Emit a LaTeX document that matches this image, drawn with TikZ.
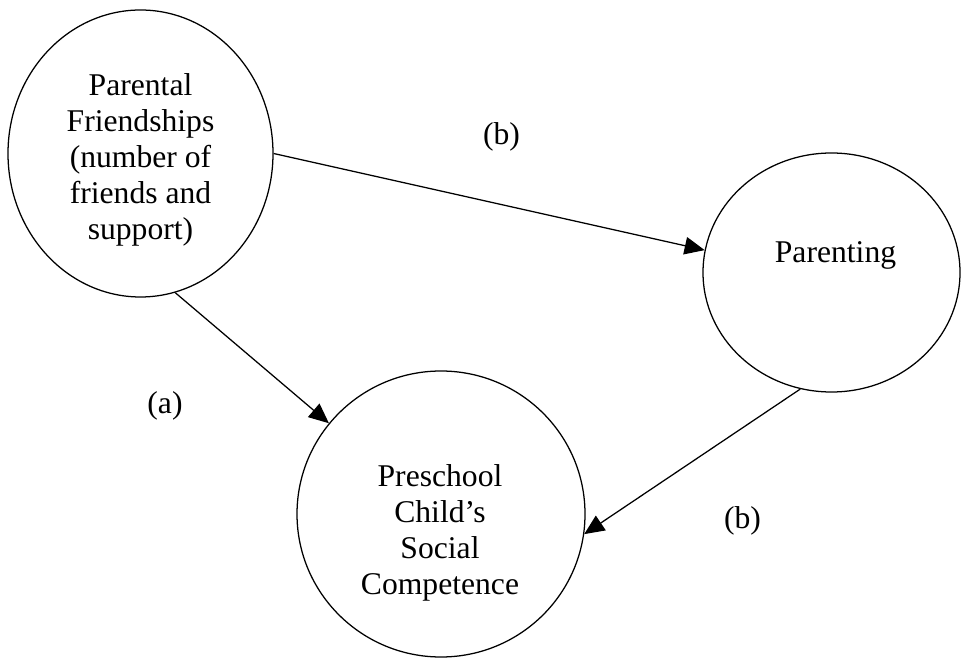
\documentclass[tikz,border=0pt]{standalone}
\usepackage{fontspec}
\setmainfont{Liberation Serif}
\usetikzlibrary{arrows.meta}
\usetikzlibrary{shapes,positioning}
\tikzset{>={Triangle[length=5mm,width=4.4mm]}}
\tikzset{bubble/.style={draw,ellipse,line width=0.9pt,inner sep=0pt}}
\tikzset{words/.style={align=center,inner sep=0pt,font=\fontsize{22.5}{25.6}\selectfont}}
\tikzset{link/.style={->,line width=0.9pt}}

\begin{document}
\begin{tikzpicture}
		\useasboundingbox (0,0) rectangle (24.025,16.45);
		\node [bubble,minimum width=6.625cm,minimum height=7.175cm] (friends) at (3.5125,12.6125) {};
		\node [bubble,minimum width=6.425cm,minimum height=5.975cm] (parenting) at (20.7875,9.6375) {};
		\node [bubble,minimum width=7.2cm,minimum height=7.15cm] (preschool) at (11.025,3.6) {};
		\node [words,anchor=north] (friendsText) at (3.5125,14.625) {Parental\\Friendships\\(number of\\friends and\\support)};
		\node [words,anchor=base] (parentingText) at (20.8875,9.875) {Parenting};
		\node [words,anchor=north] (preschoolText) at (11.0,4.85) {Preschool\\Child’s\\Social\\Competence};
		\node [words] (labelTop) at (12.5375,13.0375) {(b)};
		\node [words] (labelLeft) at (4.125,6.3125) {(a)};
		\node [words] (labelRight) at (18.5625,3.425) {(b)};
		\draw [link] (friends.east) -- (parenting.170);
		\draw [link] (friends.284) -- (preschool.141);
		\draw [link] (parenting.255) -- (preschool.352);
		\end{tikzpicture}
\end{document}
